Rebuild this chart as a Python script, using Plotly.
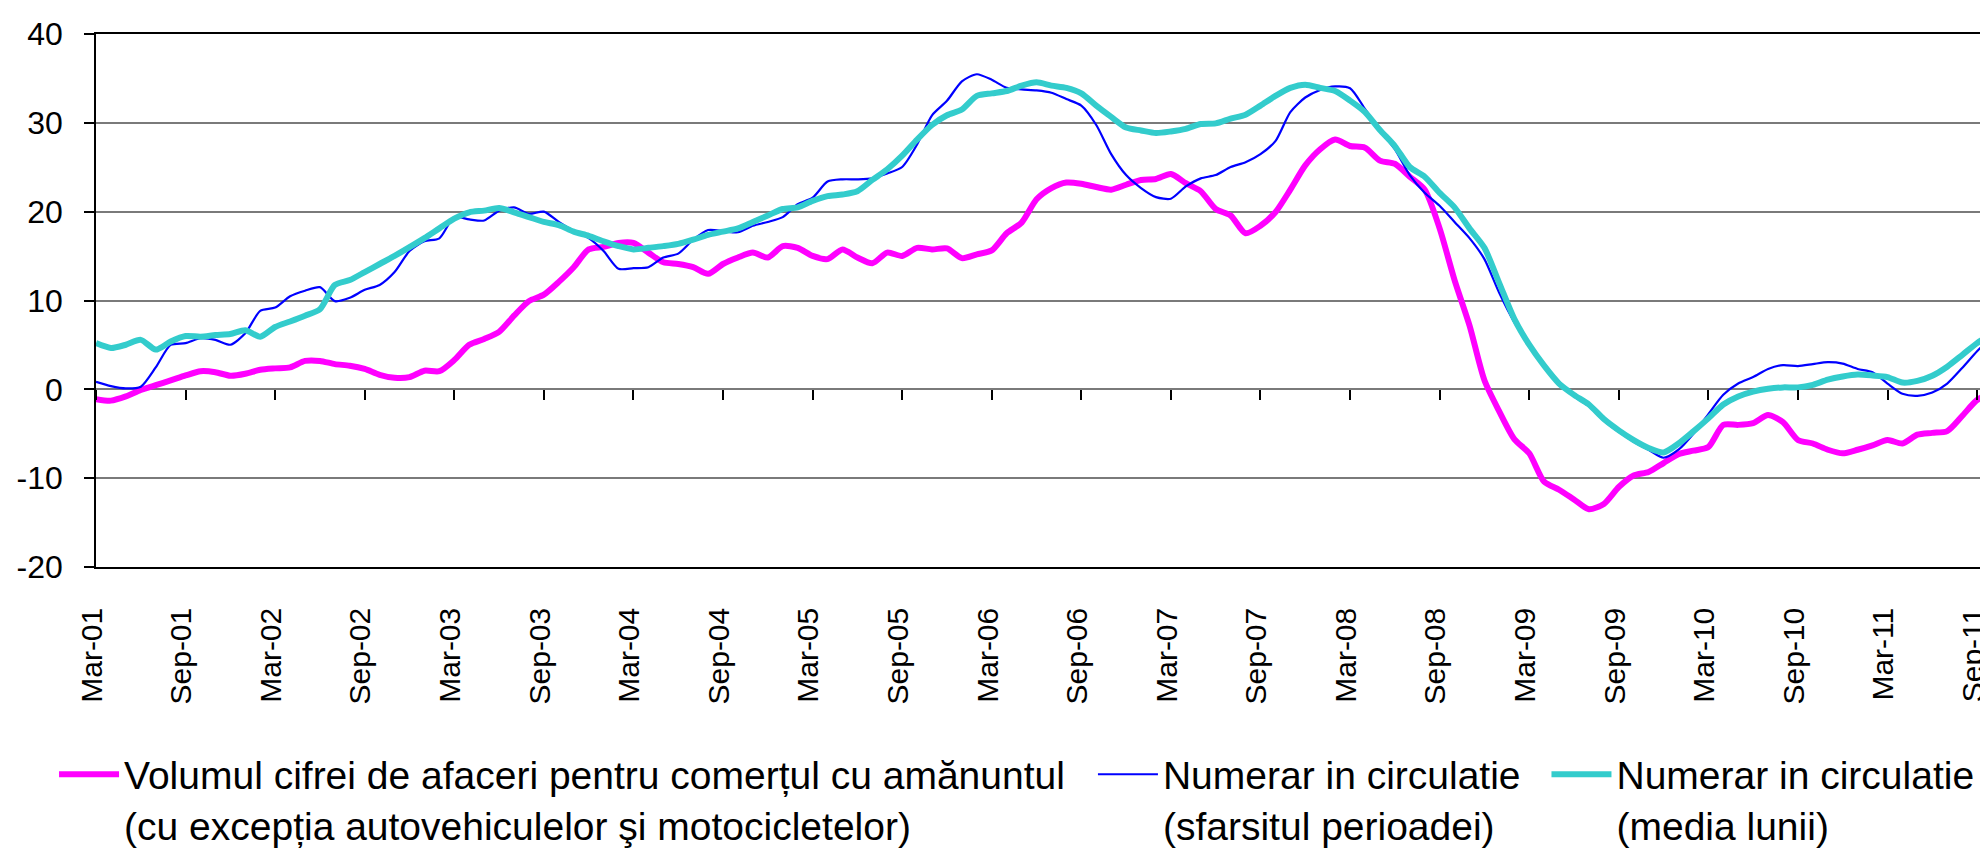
import plotly.graph_objects as go

# ---- data (monthly, Mar-2001 .. Oct-2011) ----
MONTH_NAMES = ["Jan", "Feb", "Mar", "Apr", "May", "Jun",
               "Jul", "Aug", "Sep", "Oct", "Nov", "Dec"]
months = []
y, m = 2001, 3
while (y, m) <= (2011, 10):
    months.append(f"{MONTH_NAMES[m-1]}-{y % 100:02d}")
    m += 1
    if m > 12:
        m, y = 1, y + 1

retail = [
    -1.1, -1.27, -0.8, -0.07, 0.47, 1.0, 1.56, 2.04, 1.93, 1.53,
    1.75, 2.2, 2.36, 2.47, 3.2, 3.2, 2.84, 2.66, 2.29, 1.64,
    1.31, 1.38, 2.1, 2.04, 3.3, 5.02, 5.67, 6.47, 8.29, 9.93,
    10.66, 12.1, 13.75, 15.75, 16.04, 16.48, 16.48, 15.39, 14.3, 14.11,
    13.75, 13.0,
    14.11, 14.84, 15.39, 14.84, 16.12, 15.93, 15.02, 14.66, 15.75, 14.84,
    14.19, 15.39, 15.02, 15.93, 15.75, 15.86, 14.77, 15.2, 15.64, 17.57,
    18.77, 21.4, 22.66, 23.28, 23.14, 22.77, 22.48, 23.03, 23.57, 23.68,
    24.23, 23.21, 22.3, 20.3, 19.57, 17.57, 18.41, 19.93, 22.48, 25.21,
    27.03, 28.12, 27.39,
    27.2, 25.75, 25.39, 23.94, 22.48, 18.12, 12.3, 7.2, 1.02,
    -2.5, -5.6, -7.2, -10.4, -11.3, -12.4, -13.5, -12.9, -11.0, -9.7,
    -9.3, -8.3, -7.3, -6.9, -6.5, -4.0, -4.0, -3.8, -2.9, -3.7,
    -5.7, -6.1, -6.8, -7.2, -6.8, -6.3, -5.7, -6.1, -5.1, -4.9,
    -4.7, -3.0, -1.2, -0.4,
]

cash_end = [
    0.84, 0.36, 0.1, 0.3, 2.47, 5.0, 5.2, 5.75, 5.57, 5.02,
    6.3, 8.84, 9.2, 10.48, 11.1, 11.5, 9.93, 10.3, 11.2, 11.75,
    13.2, 15.57, 16.66, 17.0, 19.39, 19.13, 19.0, 20.1, 20.48, 19.75,
    20.0, 18.84, 17.82, 17.02, 15.57, 13.57, 13.64, 13.75, 14.84, 15.28,
    16.84, 17.93,
    17.82, 17.68, 18.41, 18.84, 19.39, 20.84, 21.57, 23.39, 23.64, 23.64,
    23.75, 24.3, 25.03, 27.57, 30.85, 32.48, 34.67, 35.47, 34.85, 33.94,
    33.76, 33.65, 33.39, 32.67, 31.94, 29.76, 26.48, 24.12, 22.66, 21.64,
    21.46, 22.84, 23.75, 24.12, 25.03, 25.57, 26.48, 27.94, 31.21, 32.85,
    33.7, 34.1, 33.9,
    31.57, 29.2, 27.03, 24.12, 22.12, 20.66, 18.84, 17.02, 14.66, 10.84,
    7.57, 5.02, 2.84, 0.84, -0.8, -1.9, -3.53, -4.8, -5.9,
    -6.8, -7.7, -6.8, -5.0, -2.8, -0.62, 0.65, 1.38, 2.29, 2.73,
    2.62, 2.84, 3.06, 2.9, 2.29, 1.93, 0.65, -0.5, -0.73, -0.36,
    0.65, 2.4, 4.29, 5.93,
]

cash_avg = [
    5.2, 4.66, 5.02, 5.57, 4.47, 5.38, 6.0, 5.93, 6.11, 6.22,
    6.66, 5.93, 7.02, 7.64, 8.29, 9.02, 11.75, 12.3, 13.2, 14.11,
    15.02, 16.0, 17.02, 18.12, 19.21, 19.93, 20.12, 20.41, 19.93, 19.39,
    18.84, 18.48, 17.75, 17.28, 16.66, 16.12, 15.75, 15.93, 16.12, 16.37,
    16.84, 17.39,
    17.75, 18.12, 18.84, 19.57, 20.3, 20.48, 21.21, 21.75, 21.93, 22.3,
    23.57, 24.77, 26.3, 28.12, 29.76, 30.85, 31.5, 33.03, 33.32, 33.58,
    34.19, 34.56, 34.19, 33.94, 33.32, 31.94, 30.67, 29.47, 29.14, 28.85,
    29.03, 29.32, 29.87, 29.94, 30.48, 30.92, 31.94, 33.03, 33.94, 34.3,
    33.94, 33.58, 32.5,
    31.21, 29.2, 27.39, 25.03, 23.94, 22.12, 20.48, 18.12, 15.93, 11.93,
    7.93, 5.02, 2.66, 0.65, -0.62, -1.71, -3.35, -4.62, -5.71,
    -6.6, -7.1, -6.1, -4.73, -3.27, -1.71, -0.8, -0.25, 0.07, 0.22,
    0.22, 0.51, 1.09, 1.45, 1.67, 1.56, 1.38, 0.76, 0.95, 1.53,
    2.55, 3.86, 5.2, 6.29,
]

tick_labels = months[::6]
y_ticks = [-20, -10, 0, 10, 20, 30, 40]
y_tick_text = [str(v) for v in y_ticks]

names = [
    "Volumul cifrei de afaceri pentru comerțul cu amănuntul<br>(cu excepția autovehiculelor şi motocicletelor)",
    "Numerar in circulatie<br>(sfarsitul perioadei)",
    "Numerar in circulatie<br>(media lunii)",
]

FONT = "Liberation Sans, Arial, sans-serif"

fig = go.Figure()
fig.add_trace(go.Scatter(
    x=months, y=retail, mode="lines", name=names[0],
    line=dict(color="#FF00FF", width=6, shape="spline", smoothing=0.7),
    legend="legend"))
fig.add_trace(go.Scatter(
    x=months, y=cash_end, mode="lines", name=names[1],
    line=dict(color="#0000FF", width=2.2, shape="spline", smoothing=0.7),
    legend="legend2"))
fig.add_trace(go.Scatter(
    x=months, y=cash_avg, mode="lines", name=names[2], xaxis="x2",
    line=dict(color="#33CCCC", width=6, shape="spline", smoothing=0.7),
    legend="legend3"))

W, H = 1988, 852
ML, MR, MT, MB = 88, 2, 26, 276
PW = W - ML - MR
PH = H - MT - MB


def px_x(px):
    return (px - ML) / PW


def px_y(py):
    return (H - MB - py) / PH


leg_common = dict(
    font=dict(family=FONT, size=39, color="black"),
    bgcolor="rgba(0,0,0,0)", borderwidth=0,
    xanchor="left", yanchor="top", valign="top",
    itemwidth=60, orientation="v",
)

fig.update_layout(
    width=W, height=H,
    margin=dict(l=ML, r=MR, t=MT, b=MB, pad=0),
    paper_bgcolor="white", plot_bgcolor="white",
    font=dict(family=FONT, size=30, color="black"),
    showlegend=True,
    legend=dict(x=px_x(46), y=px_y(757), **leg_common),
    legend2=dict(x=px_x(1086), y=px_y(757), **leg_common),
    legend3=dict(x=px_x(1540), y=px_y(757), **leg_common),
    xaxis=dict(
        type="category", categoryorder="array", categoryarray=months,
        range=[0, len(months) - 1],
        showline=True, linecolor="black", linewidth=1.5, mirror=True,
        ticks="", tickmode="array", tickvals=tick_labels, ticktext=tick_labels,
        tickangle=-90, tickfont=dict(family=FONT, size=30, color="black"),
        ticklabelstandoff=27, ticklabelshift=-4,
        showgrid=False, zeroline=False,
    ),
    xaxis2=dict(
        type="category", categoryorder="array", categoryarray=months,
        range=[0, len(months) - 1],
        overlaying="x", anchor="free", position=1/3, side="bottom",
        showline=False, ticks="outside", ticklen=10, tickwidth=1.5,
        tickcolor="black", tickmode="array", tickvals=tick_labels,
        showticklabels=False, showgrid=False, zeroline=False,
    ),
    yaxis=dict(
        range=[-20, 40], tickmode="array", tickvals=y_ticks, ticktext=y_tick_text,
        showline=True, linecolor="black", linewidth=1.5, mirror=True,
        ticks="outside", ticklen=10, tickwidth=1.5, tickcolor="black",
        tickfont=dict(family=FONT, size=32, color="black"),
        ticklabelstandoff=15,
        showgrid=True, gridcolor="#7a7a7a", gridwidth=2,
        zeroline=False,
    ),
)

fig.write_html("out.html")
